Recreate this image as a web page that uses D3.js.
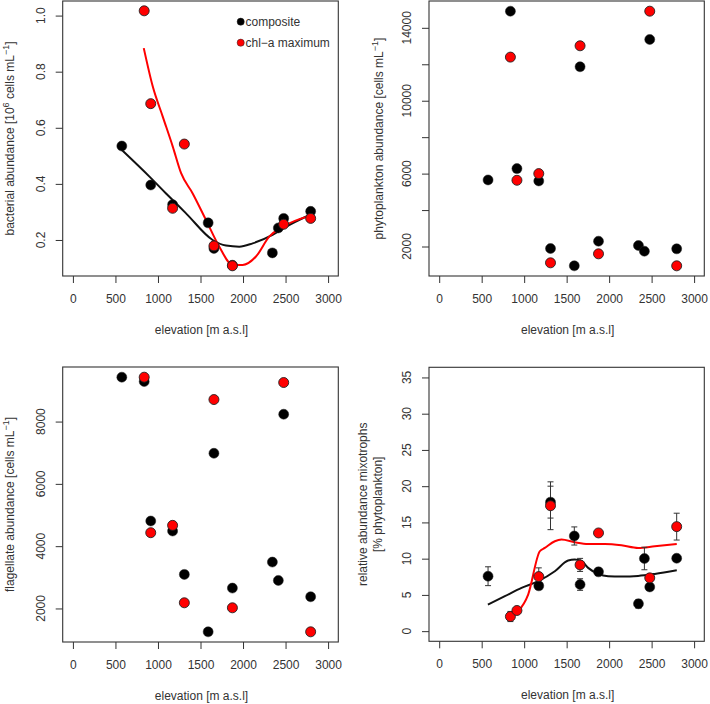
<!DOCTYPE html>
<html><head><meta charset="utf-8">
<script src="https://cdn.jsdelivr.net/npm/d3@7"></script>
<style>body{margin:0;background:#fff}svg{display:block}text{font-family:"Liberation Sans",Arial,sans-serif;fill:#333}</style>
</head><body>
<script>
// ---------- data ----------
const xTicks = [0, 500, 1000, 1500, 2000, 2500, 3000];

// Panel A: bacterial abundance [10^6 cells/mL]
const bactComposite = [[575,0.535],[915,0.396],[1172,0.326],[1590,0.261],[1658,0.170],[1875,0.110],[2345,0.154],[2415,0.243],[2478,0.277],[2795,0.302]];
const bactChl = [[838,1.017],[915,0.686],[1172,0.313],[1310,0.542],[1658,0.179],[1875,0.108],[2478,0.256],[2795,0.277]];
const bactCompositeSmooth = [[575,0.521],[900,0.426],[1095,0.366],[1330,0.295],[1643,0.200],[1800,0.180],[1956,0.176],[2113,0.188],[2347,0.218],[2504,0.247],[2782,0.289]];
const bactChlSmooth = [[833,0.884],[939,0.747],[1056,0.640],[1174,0.533],[1272,0.438],[1408,0.366],[1565,0.271],[1721,0.176],[1878,0.111],[1995,0.111],[2152,0.141],[2308,0.212],[2465,0.247],[2782,0.286]];
const bactTicks = [0.2, 0.4, 0.6, 0.8, 1.0];

// Panel B: phytoplankton abundance [cells/mL]
const phytoComposite = [[575,5653],[838,14913],[915,6274],[1172,5598],[1310,1890],[1590,941],[1658,11863],[1875,2292],[2345,2055],[2415,1744],[2478,13361],[2795,1872]];
const phytoChl = [[838,12393],[915,5635],[1172,6000],[1310,1105],[1658,13014],[1875,1598],[2478,14913],[2795,941]];
const phytoTicks = [2000, 4000, 6000, 8000, 10000, 12000, 14000];
const phytoTickLabels = [2000, 6000, 10000, 14000];

// Panel C: flagellate abundance [cells/mL]
const flagComposite = [[575,9425],[838,9286],[915,4807],[1172,4486],[1310,3093],[1590,1250],[1658,6982],[1875,2654],[2345,3489],[2415,2900],[2478,8236],[2795,2375]];
const flagChl = [[838,9425],[915,4432],[1172,4668],[1310,2182],[1658,8707],[1875,2021],[2478,9254],[2795,1250]];
const flagTicks = [2000, 4000, 6000, 8000];

// Panel D: relative abundance mixotrophs [% phytoplankton]  [elev, value, error]
const mixoComposite = [[575,7.58,1.3],[1172,6.25,0.3],[1310,17.8,2.2],[1590,13.13,1.25],[1658,6.43,0.8],[1875,8.18,0.5],[2345,3.77,0.6],[2415,10.02,1.55],[2478,6.1,0.4],[2795,10.06,0.4]];
const mixoChl = [[838,2.02,0.7],[915,2.85,0.4],[1172,7.53,1.2],[1310,17.3,3.3],[1658,9.14,0.9],[1875,13.55,0.3],[2478,7.35,0.4],[2795,14.42,1.85]];
const mixoCompositeSmooth = [[573,3.67],[773,4.82],[969,5.97],[1165,6.89],[1361,8.27],[1518,9.74],[1596,9.87],[1675,9.65],[1753,8.73],[1871,7.9],[1988,7.58],[2145,7.53],[2341,7.62],[2537,7.9],[2796,8.4]];
const mixoChlSmooth = [[835,2.07],[929,2.76],[1047,5.05],[1184,11.02],[1243,11.48],[1361,12.40],[1439,12.63],[1596,12.26],[1753,12.03],[1949,12.03],[2145,11.85],[2341,11.48],[2537,11.71],[2796,12.03]];
const mixoTicks = [0, 5, 10, 15, 20, 25, 30, 35];

const legendLabels = ["composite", "chl\u2212a maximum"];
const xTitle = "elevation [m a.s.l]";

// ---------- drawing ----------
const svg = d3.select("body").append("svg").attr("width", 710).attr("height", 704);
const RED = "#ff0000", INK = "#333";

function panel(cfg) {
  const g = svg.append("g");
  const x = d3.scaleLinear().domain([-120, 3120]).range([cfg.left, cfg.right]);
  const y = d3.scaleLinear().domain(cfg.yDomain).range([cfg.bottom, cfg.top]);
  // box
  g.append("rect").attr("x", cfg.left).attr("y", cfg.top)
    .attr("width", cfg.right - cfg.left).attr("height", cfg.bottom - cfg.top)
    .attr("fill", "none").attr("stroke", INK).attr("stroke-width", 1.1);
  // x axis
  const xa = g.append("g").attr("transform", `translate(0,${cfg.bottom})`)
    .call(d3.axisBottom(x).tickValues(xTicks).tickSize(7).tickPadding(11).tickFormat(d3.format("d")));
  xa.select(".domain").remove();
  xa.selectAll("line").attr("stroke", INK);
  xa.selectAll("text").attr("font-size", 12).attr("fill", INK).attr("font-family", "Liberation Sans, Arial, sans-serif");
  // y axis
  const ya = g.append("g").attr("transform", `translate(${cfg.left},0)`)
    .call(d3.axisLeft(y).tickValues(cfg.yTicks).tickSize(7).tickFormat(""));
  ya.select(".domain").remove();
  ya.selectAll("line").attr("stroke", INK);
  cfg.yLabels.forEach(v => {
    const cx = cfg.left - 22, cy = y(v);
    g.append("text").attr("transform", `translate(${cx},${cy}) rotate(-90)`)
      .attr("text-anchor", "middle").attr("dy", "0.35em").attr("font-size", 12).text(cfg.fmt(v));
  });
  // x title
  g.append("text").attr("x", (cfg.left + cfg.right) / 2 + 1).attr("y", cfg.bottom + 58)
    .attr("text-anchor", "middle").attr("font-size", 12).text(xTitle);
  // y title
  const my = (cfg.top + cfg.bottom) / 2;
  cfg.yTitle.forEach((parts, i) => {
    const t = g.append("text").attr("transform", `translate(${cfg.titleX[i]},${my}) rotate(-90)`)
      .attr("text-anchor", "middle").attr("dy", "0.35em").attr("font-size", 12);
    parts.forEach(p => {
      const ts = t.append("tspan").text(p.t);
      if (p.sup) ts.attr("font-size", 9).attr("baseline-shift", "super");
    });
  });
  const line = d3.line().x(d => x(d[0])).y(d => y(d[1])).curve(d3.curveMonotoneX);
  if (cfg.smooth) {
    cfg.smooth.forEach(([data, col]) => {
      g.append("path").attr("d", line(data)).attr("fill", "none").attr("stroke", col).attr("stroke-width", 2);
    });
  }
  // error bars
  if (cfg.errors) {
    cfg.series.forEach(([data]) => {
      data.forEach(d => {
        const x0 = x(d[0]), y1 = y(d[1] + d[2]), y2 = y(d[1] - d[2]);
        g.append("line").attr("x1", x0).attr("x2", x0).attr("y1", y1).attr("y2", y2).attr("stroke", INK).attr("stroke-width", 1);
        [y1, y2].forEach(yy => g.append("line").attr("x1", x0 - 3).attr("x2", x0 + 3).attr("y1", yy).attr("y2", yy).attr("stroke", INK).attr("stroke-width", 1));
      });
    });
  }
  cfg.series.forEach(([data, col]) => {
    g.selectAll(null).data(data).enter().append("circle")
      .attr("cx", d => x(d[0])).attr("cy", d => y(d[1])).attr("r", 5)
      .attr("fill", col).attr("stroke", "#222").attr("stroke-width", col === RED ? 0.9 : 0.5);
  });
  return g;
}

const fmt1 = d3.format(".1f"), fmtD = d3.format("d");

const p1 = panel({left: 62.7, right: 338.3, top: 1, bottom: 276, yDomain: [0.0716, 1.052],
  yTicks: bactTicks, yLabels: bactTicks, fmt: fmt1, titleX: [10],
  yTitle: [[{t: "bacterial abundance [10"}, {t: "6", sup: true}, {t: " cells mL"}, {t: "\u22121", sup: true}, {t: "]"}]],
  smooth: [[bactCompositeSmooth, "#111"], [bactChlSmooth, RED]],
  series: [[bactComposite, "#000"], [bactChl, RED]]});

panel({left: 429, right: 704.3, top: 1, bottom: 276, yDomain: [382, 15472],
  yTicks: phytoTicks, yLabels: phytoTickLabels, fmt: fmtD, titleX: [379],
  yTitle: [[{t: "phytoplankton abundance [cells mL"}, {t: "\u22121", sup: true}, {t: "]"}]],
  series: [[phytoComposite, "#000"], [phytoChl, RED]]});

panel({left: 62.7, right: 338.3, top: 367, bottom: 642, yDomain: [923, 9752],
  yTicks: flagTicks, yLabels: flagTicks, fmt: fmtD, titleX: [10],
  yTitle: [[{t: "flagellate abundance [cells mL"}, {t: "\u22121", sup: true}, {t: "]"}]],
  series: [[flagComposite, "#000"], [flagChl, RED]]});

panel({left: 429, right: 704.3, top: 367.3, bottom: 641.3, yDomain: [-1.4, 36.4],
  yTicks: mixoTicks, yLabels: mixoTicks, fmt: fmtD, titleX: [363, 378],
  yTitle: [[{t: "relative abundance mixotrophs"}], [{t: "[% phytoplankton]"}]],
  smooth: [[mixoCompositeSmooth, "#111"], [mixoChlSmooth, RED]],
  errors: true,
  series: [[mixoComposite, "#000"], [mixoChl, RED]]});

// legend (panel A)
const leg = p1.append("g");
legendLabels.forEach((lab, i) => {
  const ly = 21.7 + i * 21;
  leg.append("circle").attr("cx", 240.7).attr("cy", ly).attr("r", 3.6)
    .attr("fill", i === 0 ? "#000" : RED).attr("stroke", "#222").attr("stroke-width", 0.5);
  leg.append("text").attr("x", 245.5).attr("y", ly).attr("dy", "0.35em").attr("font-size", 12).text(lab);
});
</script>
</body></html>
